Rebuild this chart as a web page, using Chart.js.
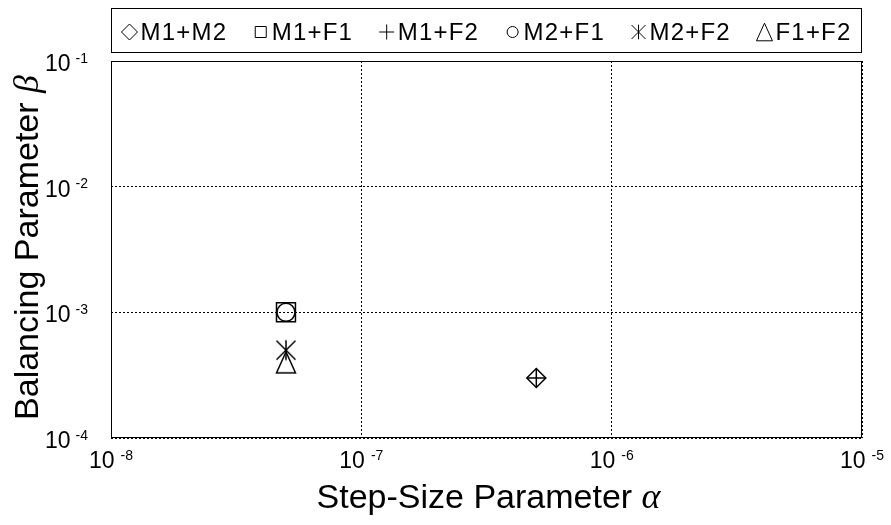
<!DOCTYPE html>
<html>
<head>
<meta charset="utf-8">
<script src="https://cdn.jsdelivr.net/npm/chart.js@4.4.0/dist/chart.umd.min.js"></script>
<style>
  html, body { margin: 0; padding: 0; background: #fff; }
  #wrap { width: 891px; height: 525px; position: relative; }
</style>
</head>
<body>
<div id="wrap"><canvas id="chart"></canvas></div>
<script>
// Best (alpha, beta) found for each pair of modalities
const seriesLabels = ['M1+M2', 'M1+F1', 'M1+F2', 'M2+F1', 'M2+F2', 'F1+F2'];
const alphaValues = [5e-7, 5e-8, 5e-7, 5e-8, 5e-8, 5e-8];
const betaValues = [3e-4, 1e-3, 3e-4, 1e-3, 5e-4, 4e-4];

// Decade ticks on both log axes
const xTickValues = [1e-8, 1e-7, 1e-6, 1e-5];
const yTickValues = [1e-4, 1e-3, 1e-2, 1e-1];

const markerShapes = ['diamond', 'square', 'plus', 'circle', 'asterisk', 'triangle'];

const SANS = '"Liberation Sans", Arial, sans-serif';
const SERIF = '"Liberation Serif", "Times New Roman", serif';
const INK = '#000';

function traceShape(ctx, shape, cx, cy, r) {
  ctx.beginPath();
  switch (shape) {
    case 'diamond':
      ctx.moveTo(cx, cy - r); ctx.lineTo(cx + r, cy); ctx.lineTo(cx, cy + r); ctx.lineTo(cx - r, cy);
      ctx.closePath();
      break;
    case 'square':
      ctx.rect(cx - r, cy - r, 2 * r, 2 * r);
      break;
    case 'plus':
      ctx.moveTo(cx - r, cy); ctx.lineTo(cx + r, cy);
      ctx.moveTo(cx, cy - r); ctx.lineTo(cx, cy + r);
      break;
    case 'circle':
      ctx.arc(cx, cy, r, 0, Math.PI * 2);
      break;
    case 'asterisk':
      ctx.moveTo(cx - r, cy - r); ctx.lineTo(cx + r, cy + r);
      ctx.moveTo(cx + r, cy - r); ctx.lineTo(cx - r, cy + r);
      ctx.moveTo(cx, cy - r * 1.05); ctx.lineTo(cx, cy + r * 1.05);
      break;
    case 'triangle':
      ctx.moveTo(cx, cy - r * 1.1); ctx.lineTo(cx + r, cy + r * 1.1); ctx.lineTo(cx - r, cy + r * 1.1);
      ctx.closePath();
      break;
  }
  ctx.stroke();
}

// the library has no 6-arm asterisk or tall triangle, so those two are small canvases
function markerImage(shape, r, w, h) {
  const c = document.createElement('canvas');
  c.width = w; c.height = h;
  const g = c.getContext('2d');
  g.strokeStyle = INK;
  g.lineWidth = 1.5;
  traceShape(g, shape, w / 2, h / 2, r);
  return c;
}

const pointStyles = ['rectRot', 'rect', 'cross', 'circle',
  markerImage('asterisk', 9.5, 22, 23), markerImage('triangle', 9.5, 22, 25)];
const pointRadii = [9.5, 13.4, 9.5, 9, 10, 10];

const datasets = seriesLabels.map((label, i) => ({
  label,
  data: [{ x: alphaValues[i], y: betaValues[i] }],
  pointStyle: pointStyles[i],
  pointRadius: pointRadii[i],
  pointBorderWidth: 1.5,
  borderColor: INK,
  backgroundColor: 'rgba(0,0,0,0)',
  showLine: false
}));

function drawPower(ctx, exp, x, base, supBase, align, gap) {
  ctx.font = '23px ' + SANS;
  const w10 = ctx.measureText('10').width;
  ctx.font = '14px ' + SANS;
  const wExp = ctx.measureText(String(exp)).width;
  const total = w10 + gap + wExp;
  const left = align === 'center' ? x - total / 2 : x - total;
  ctx.textAlign = 'left';
  ctx.textBaseline = 'alphabetic';
  ctx.font = '23px ' + SANS;
  ctx.fillText('10', left, base);
  ctx.font = '14px ' + SANS;
  ctx.fillText(String(exp), left + w10 + gap, supBase);
}

function drawTitle(ctx, text, greek, x, y) {
  ctx.font = '34px ' + SANS;
  const w1 = ctx.measureText(text + ' ').width;
  ctx.font = 'italic 36px ' + SERIF;
  const w2 = ctx.measureText(greek).width;
  const left = x - (w1 + w2) / 2;
  ctx.textAlign = 'left';
  ctx.textBaseline = 'alphabetic';
  ctx.font = '34px ' + SANS;
  ctx.fillText(text + ' ', left, y);
  ctx.font = 'italic 36px ' + SERIF;
  ctx.fillText(greek, left + w1, y);
}

const legendRadii = [8, 5.5, 7.5, 5.5, 7, 8];

const decorPlugin = {
  id: 'decor',
  afterDraw(chart) {
    const { ctx, chartArea: a, scales } = chart;
    ctx.save();
    ctx.fillStyle = INK;
    ctx.strokeStyle = INK;

    // frame
    ctx.lineWidth = 1;
    ctx.setLineDash([]);
    ctx.strokeRect(a.left + 0.5, a.top + 0.5, a.right - a.left - 1, a.bottom - a.top - 1);

    // tick labels as 10^n
    xTickValues.forEach(v => {
      const px = scales.x.getPixelForValue(v);
      drawPower(ctx, Math.round(Math.log10(v)), px, a.bottom + 30, a.bottom + 22, 'center', 6);
    });
    yTickValues.forEach(v => {
      const py = scales.y.getPixelForValue(v);
      drawPower(ctx, Math.round(Math.log10(v)), a.left - 23, py + 10, py + 1.5, 'right', 5);
    });

    // axis titles
    drawTitle(ctx, 'Step-Size Parameter', '\u03B1', (a.left + a.right) / 2 + 2, 508);
    ctx.save();
    ctx.translate(38, (a.top + a.bottom) / 2 - 2);
    ctx.rotate(-Math.PI / 2);
    drawTitle(ctx, 'Balancing Parameter', '\u03B2', 0, 0);
    ctx.restore();

    // legend box across the top
    const boxL = a.left + 0.5, boxR = a.right - 0.5, boxT = 8.5, boxB = 52.5;
    ctx.lineWidth = 1;
    ctx.strokeRect(boxL, boxT, boxR - boxL, boxB - boxT);
    ctx.font = '24px ' + SANS;
    ctx.letterSpacing = '1.2px';
    const textW = chart.data.datasets.map(d => ctx.measureText(d.label).width);
    const slot = 19, pad = 10;
    const used = textW.reduce((s, w) => s + w + slot, 0);
    const gap = (boxR - boxL - 2 * pad - used) / (textW.length - 1);
    let x = boxL + pad;
    chart.data.datasets.forEach((d, i) => {
      ctx.lineWidth = 1;
      traceShape(ctx, markerShapes[i], x + 8, 32, legendRadii[i]);
      ctx.textAlign = 'left';
      ctx.textBaseline = 'alphabetic';
      ctx.fillText(d.label, x + slot, 39.5);
      x += slot + textW[i] + gap;
    });
    ctx.letterSpacing = '0px';
    ctx.restore();
  }
};

function logAxis(min, max, tickValues, fitKey) {
  return {
    type: 'logarithmic',
    min,
    max,
    afterBuildTicks: s => { s.ticks = tickValues.map(v => ({ value: v })); },
    afterFit: s => { s[fitKey] = 0; },
    ticks: { display: false },
    grid: { color: INK, lineWidth: 1, drawTicks: false },
    border: { display: false, dash: [2, 2] }
  };
}

new Chart(document.getElementById('chart'), {
  type: 'scatter',
  data: { datasets },
  options: {
    responsive: true,
    maintainAspectRatio: false,
    devicePixelRatio: 1,
    animation: false,
    events: [],
    layout: { padding: { left: 111, right: 29, top: 61, bottom: 87 } },
    plugins: {
      legend: { display: false },
      tooltip: { enabled: false }
    },
    scales: {
      x: logAxis(1e-8, 1e-5, xTickValues, 'height'),
      y: logAxis(1e-4, 1e-1, yTickValues, 'width')
    }
  },
  plugins: [decorPlugin]
});
</script>
</body>
</html>
